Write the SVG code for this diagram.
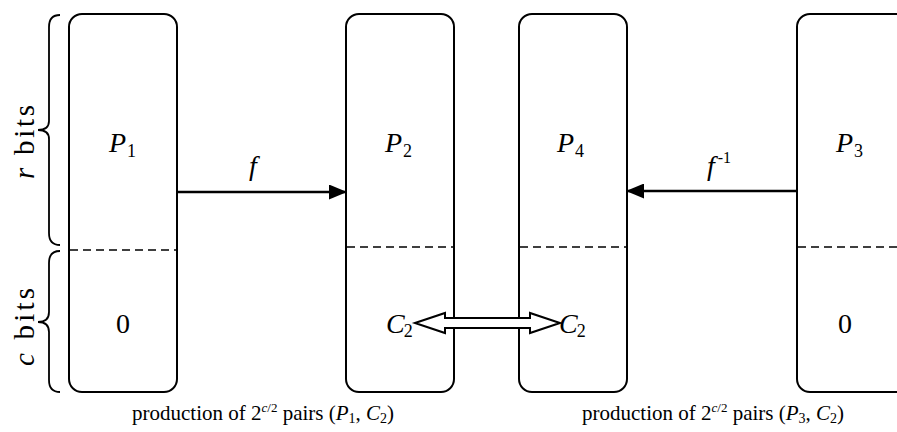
<svg xmlns="http://www.w3.org/2000/svg" width="897" height="432" viewBox="0 0 897 432">
<defs>
<style>
.box{fill:#fff;stroke:#000;stroke-width:2}
.dash{stroke:#000;stroke-width:1.5;stroke-dasharray:8,5}
.ln{stroke:#000;stroke-width:2.5;fill:none}
.br{stroke:#000;stroke-width:1.8;fill:none}
</style>
<marker id="ah2" markerWidth="18" markerHeight="15" refX="17" refY="7.5" orient="auto" markerUnits="userSpaceOnUse" viewBox="0 0 18 15">
<path d="M0,0 L18,7.5 L0,15 Z" fill="#000"/>
</marker>
</defs>
<g font-family="Liberation Serif, 'Times New Roman', serif" fill="#000">
<g id="braces">
<path class="br" d="M60,15 Q49,15 49,27 L49,121 Q49,130 38,130 Q49,130 49,139 L49,233 Q49,245 60,245"/>
<path class="br" d="M60,251 Q49,251 49,263 L49,312 Q49,322 38,322 Q49,322 49,332 L49,380 Q49,392 60,392"/>
<text font-size="29" transform="translate(34,142) rotate(-90)" text-anchor="middle" textLength="74" lengthAdjust="spacing"><tspan font-style="italic">r</tspan> bits</text>
<text font-size="29" transform="translate(34,327) rotate(-90)" text-anchor="middle" textLength="78" lengthAdjust="spacing"><tspan font-style="italic">c</tspan> bits</text>
</g>
<g id="P1">
<rect class="box" x="69" y="14" width="108" height="378" rx="13"/>
<line class="dash" x1="70" y1="250" x2="176" y2="250"/>
<text font-size="28" x="109" y="152"><tspan font-style="italic">P</tspan><tspan font-size="18" dy="5" dx="1">1</tspan></text>
<text font-size="28" x="116" y="333">0</text>
</g>
<g id="P2">
<rect class="box" x="346" y="14" width="108" height="378" rx="13"/>
<line class="dash" x1="347" y1="247" x2="453" y2="247"/>
<text font-size="28" x="385" y="152"><tspan font-style="italic">P</tspan><tspan font-size="18" dy="5" dx="1">2</tspan></text>
<text font-size="28" x="386" y="333"><tspan font-style="italic">C</tspan><tspan font-size="18" dy="4" dx="-1">2</tspan></text>
</g>
<g id="P4">
<rect class="box" x="519" y="14" width="108" height="378" rx="13"/>
<line class="dash" x1="520" y1="247" x2="626" y2="247"/>
<text font-size="28" x="557" y="152"><tspan font-style="italic">P</tspan><tspan font-size="18" dy="5" dx="1">4</tspan></text>
<text font-size="28" x="559" y="333"><tspan font-style="italic">C</tspan><tspan font-size="18" dy="4" dx="-1">2</tspan></text>
</g>
<g id="P3">
<rect class="box" x="797" y="14" width="120" height="378" rx="13"/>
<line class="dash" x1="798" y1="247" x2="897" y2="247"/>
<text font-size="28" x="836" y="152"><tspan font-style="italic">P</tspan><tspan font-size="18" dy="5" dx="1">3</tspan></text>
<text font-size="28" x="838" y="333">0</text>
</g>
<g id="connectors">
<line class="ln" x1="177" y1="192" x2="346" y2="192" marker-end="url(#ah2)"/>
<text font-size="28" font-style="italic" x="249" y="175">f</text>
<line class="ln" x1="797" y1="191" x2="627" y2="191" marker-end="url(#ah2)"/>
<text font-size="28" x="707" y="175"><tspan font-style="italic">f</tspan><tspan font-size="16" dy="-12" dx="3">-1</tspan></text>
<path d="M415,323 L445,313 L445,318 L530,318 L530,313 L560,323 L530,333 L530,328 L445,328 L445,333 Z" fill="#fff" stroke="#000" stroke-width="2"/>
</g>
<g id="captions" font-size="21">
<text x="132" y="420">production of 2<tspan font-size="13" dy="-8" font-style="italic">c</tspan><tspan font-size="13">/2</tspan><tspan dy="8"> pairs (</tspan><tspan font-style="italic">P</tspan><tspan font-size="14" dy="3">1</tspan><tspan dy="-3">, </tspan><tspan font-style="italic">C</tspan><tspan font-size="14" dy="3">2</tspan><tspan dy="-3">)</tspan></text>
<text x="582" y="420">production of 2<tspan font-size="13" dy="-8" font-style="italic">c</tspan><tspan font-size="13">/2</tspan><tspan dy="8"> pairs (</tspan><tspan font-style="italic">P</tspan><tspan font-size="14" dy="3">3</tspan><tspan dy="-3">, </tspan><tspan font-style="italic">C</tspan><tspan font-size="14" dy="3">2</tspan><tspan dy="-3">)</tspan></text>
</g>
</g>
</svg>
